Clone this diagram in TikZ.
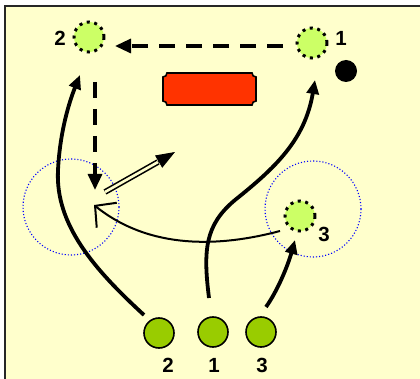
\documentclass[tikz,border=0pt]{standalone}
\usepackage{fontspec}
\setmainfont{Liberation Sans}
\usetikzlibrary{arrows.meta}
\definecolor{bgyellow}{HTML}{FFFFCC}
\definecolor{lightgreen}{HTML}{CCFF66}
\definecolor{darkgreen}{HTML}{99CC00}
\definecolor{plaque}{HTML}{FF3300}
\tikzset{
  ghost/.style={circle, draw=black, fill=lightgreen, line width=3pt, dash pattern=on 3pt off 4.6pt, minimum size=30pt, inner sep=0pt},
  player/.style={circle, draw=black, fill=darkgreen, line width=1.6pt, minimum size=30pt, inner sep=0pt},
  lbl/.style={font=\fontsize{20.5}{22}\selectfont\bfseries, inner sep=0pt},
  zone/.style={draw=blue, line width=1.1pt, dash pattern=on 1.1pt off 2pt},
  run/.style={line width=3.8pt, -{Triangle[length=14pt,width=12pt]}},
  pass/.style={line width=3.2pt, dash pattern=on 16pt off 11pt, -{Triangle[length=16pt,width=14pt]}},
}
\begin{document}
\begin{tikzpicture}[x=1pt,y=-1pt]
\useasboundingbox (0,0) rectangle (420,379);
\fill[white] (0,0) rectangle (420,379);
\fill[bgyellow] (5,7) rectangle (420,379);
\draw[line width=2pt, black!85] (4.5,379) -- (4.5,6.5) -- (420,6.5);

% zones
\draw[zone] (71,207) circle (48);
\draw[zone] (313,209) circle (48);

% plaque
\draw[fill=plaque, line width=1.6pt]
  (167,73) -- (252,73) .. controls (252,75.2) and (253.8,77) .. (256,77)
  -- (256,101) .. controls (253.8,101) and (252,102.8) .. (252,105)
  -- (167,105) .. controls (167,102.8) and (165.2,101) .. (163,101)
  -- (163,77) .. controls (165.2,77) and (167,75.2) .. (167,73) -- cycle;

% black ball
\node[circle, fill=black, minimum size=22pt, inner sep=0pt] (ball) at (346,71) {};

% players
\node[ghost] (g2) at (89,37) {};
\node[ghost] (g1) at (312,43) {};
\node[ghost] (g3) at (300,216) {};
\node[player] (p2) at (159,333) {};
\node[player] (p1) at (213,332) {};
\node[player] (p3) at (261,332) {};

% labels
\node[lbl] (l2t) at (60,38) {2};
\node[lbl] (l1t) at (341,38) {1};
\node[lbl] (l3m) at (324,234) {3};
\node[lbl] (l2b) at (168,365) {2};
\node[lbl] (l1b) at (214,365) {1};
\node[lbl] (l3b) at (262,365) {3};

% coordinates for connector ends
\coordinate (pa) at (283,46);
\coordinate (pb) at (115,46);
\coordinate (va) at (95,82);
\coordinate (vb) at (95,190);
\coordinate (da) at (105,192);
\coordinate (dm) at (158,162);
\coordinate (db) at (175,152);
\coordinate (oa) at (280,231);
\coordinate (ob) at (94,205);
\coordinate (r2a) at (144,315);
\coordinate (r2b) at (80,75);
\coordinate (r1a) at (209,298);
\coordinate (r1b) at (315,80);
\coordinate (r3a) at (266,307);
\coordinate (r3b) at (295,240);

% passes
\draw[pass] (pa) -- (pb);
\draw[pass] (va) -- (vb);

% runs
\draw[run] (r2a) .. controls (95,270) and (55,225) .. (58,170) .. controls (60,130) and (70,100) .. (r2b);
\draw[run] (r1a) .. controls (203,250) and (205,225) .. (235,200) .. controls (275,168) and (305,140) .. (r1b);
\draw[run] (r3a) .. controls (278,290) and (288,265) .. (r3b);

% open arrow
\draw[line width=2pt, -{Straight Barb[length=15pt,width=32pt,line width=2pt]}] (oa) .. controls (220,247) and (150,250) .. (ob);

% double arrow
\draw[double=bgyellow, double distance=2.6pt, line width=1.6pt] (da) -- (dm);
\draw[line width=1pt, -{Triangle[length=19pt,width=14pt]}] (dm) -- (db);
\end{tikzpicture}
\end{document}
